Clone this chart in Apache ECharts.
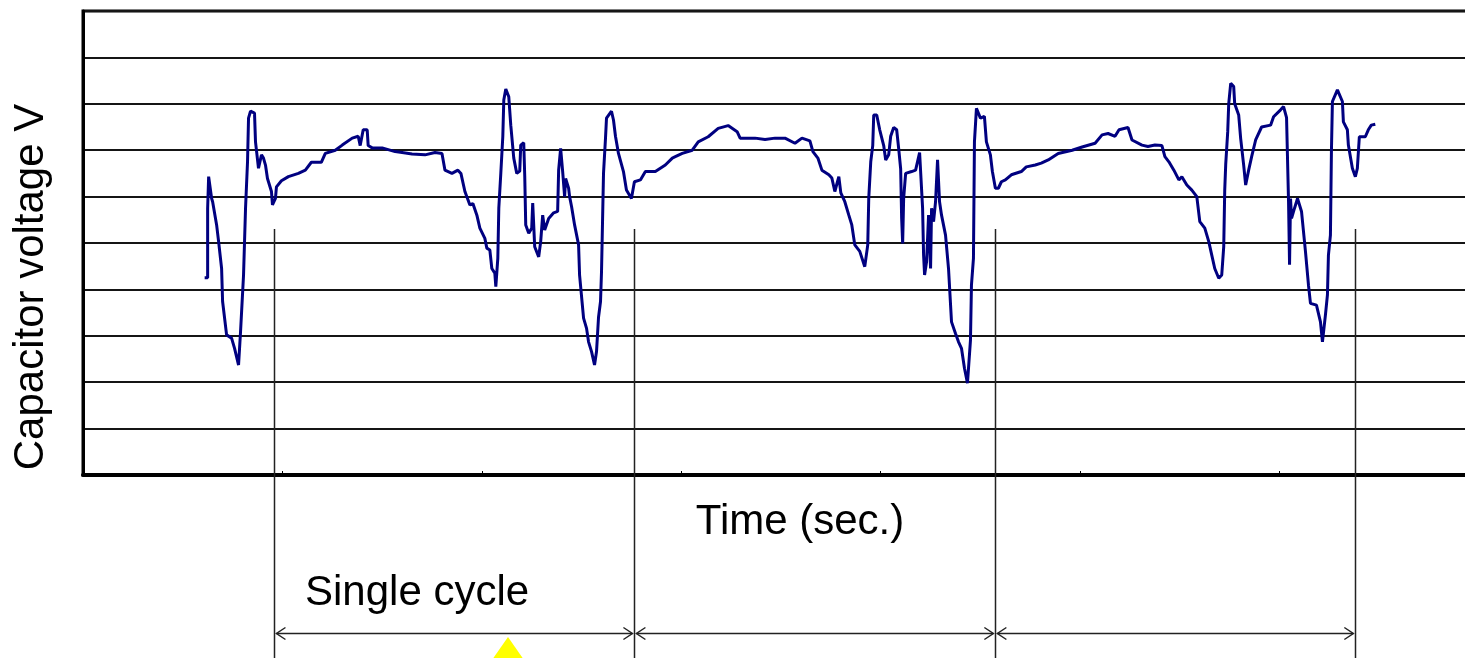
<!DOCTYPE html>
<html>
<head>
<meta charset="utf-8">
<title>Capacitor voltage</title>
<script src="https://cdn.jsdelivr.net/npm/echarts@6/dist/echarts.min.js"></script>
<style>
  html, body { margin: 0; padding: 0; background: #fff; }
  #chart { width: 1465px; height: 658px; }
</style>
</head>
<body>
<div id="chart"></div>
<script>
// time axis (ms, unlabeled ticks every 200) and voltage axis (one gridline per unit)
const timeMin = 0
const timeMax = 1400
const timeStep = 200
const voltMin = 0
const voltMax = 10
const voltStep = 1

// measured capacitor voltage, [time, volts]
const voltageTrace = [
  [122, 4.25], [125, 4.25], [125, 5.75], [126, 6.43], [127, 6.47], [129, 5.96], [130, 5.89], [134, 5.39],
  [136, 5.03], [139, 4.45], [140, 3.74], [144, 3.02], [149, 2.95], [152, 2.73], [156, 2.37], [157, 2.37],
  [158, 3.09], [161, 4.31], [163, 5.75], [165, 6.75], [166, 7.69], [168, 7.84], [172, 7.8], [173, 7.18],
  [176, 6.61], [179, 6.9], [181, 6.83], [183, 6.68], [185, 6.39], [189, 6.11], [190, 5.82], [193, 5.96],
  [194, 6.21], [199, 6.34], [206, 6.43], [216, 6.5], [223, 6.57], [229, 6.74], [239, 6.74], [243, 6.93],
  [253, 7.0], [260, 7.11], [270, 7.26], [276, 7.3], [278, 7.1], [281, 7.44], [285, 7.44], [286, 7.1],
  [290, 7.05], [300, 7.05], [313, 6.97], [320, 6.95], [330, 6.92], [343, 6.9], [353, 6.95], [360, 6.93],
  [363, 6.57], [370, 6.5], [376, 6.57], [379, 6.5], [383, 6.11], [388, 5.82], [391, 5.85], [395, 5.6],
  [398, 5.32], [403, 5.1], [405, 4.89], [408, 4.85], [410, 4.45], [413, 4.35], [414, 4.06], [416, 4.67],
  [417, 5.75], [419, 6.5], [421, 7.29], [422, 8.08], [424, 8.32], [427, 8.15], [429, 7.54], [432, 6.83],
  [435, 6.5], [438, 6.55], [439, 7.11], [442, 7.16], [443, 6.45], [444, 5.39], [447, 5.21], [450, 5.32],
  [451, 5.86], [452, 5.82], [453, 4.92], [457, 4.7], [459, 5.03], [461, 5.6], [463, 5.28], [467, 5.53],
  [472, 5.65], [476, 5.68], [477, 6.57], [479, 7.04], [481, 6.55], [483, 6.0], [484, 6.39], [487, 6.18],
  [488, 6.0], [490, 5.78], [493, 5.39], [497, 4.96], [498, 4.31], [502, 3.38], [505, 3.16], [507, 2.87],
  [510, 2.66], [513, 2.37], [515, 2.66], [517, 3.4], [519, 3.74], [520, 4.38], [522, 6.5], [524, 7.26],
  [525, 7.69], [530, 7.84], [532, 7.65], [534, 7.3], [537, 6.93], [542, 6.54], [545, 6.14], [550, 5.96],
  [553, 6.32], [559, 6.36], [564, 6.54], [574, 6.54], [584, 6.68], [591, 6.83], [594, 6.86], [601, 6.93],
  [611, 7.0], [617, 7.18], [627, 7.29], [637, 7.47], [647, 7.53], [656, 7.4], [659, 7.26], [674, 7.26],
  [684, 7.23], [694, 7.26], [704, 7.26], [714, 7.15], [721, 7.26], [729, 7.2], [732, 6.97], [737, 6.83],
  [741, 6.57], [748, 6.47], [751, 6.4], [754, 6.11], [758, 6.43], [760, 6.08], [764, 5.89], [768, 5.6],
  [771, 5.39], [774, 4.96], [779, 4.82], [784, 4.49], [787, 4.96], [788, 5.96], [790, 6.75], [792, 7.1],
  [793, 7.76], [796, 7.76], [799, 7.44], [803, 7.1], [805, 6.79], [808, 6.9], [810, 7.3], [813, 7.49],
  [816, 7.44], [818, 7.04], [820, 6.6], [821, 5.53], [822, 4.99], [823, 5.96], [825, 6.5], [831, 6.54],
  [835, 6.57], [837, 6.61], [839, 6.95], [841, 6.95], [842, 5.75], [843, 4.74], [844, 4.31], [846, 4.6],
  [848, 5.6], [850, 4.45], [851, 5.75], [853, 5.46], [855, 5.89], [857, 6.79], [859, 5.89], [861, 5.6],
  [865, 5.17], [868, 4.45], [871, 3.3], [875, 3.05], [878, 2.87], [881, 2.73], [884, 2.3], [887, 1.98],
  [890, 2.9], [891, 4.09], [893, 4.67], [894, 7.18], [896, 7.9], [897, 7.94], [900, 7.69], [904, 7.73],
  [906, 7.18], [910, 6.9], [912, 6.54], [915, 6.18], [918, 6.18], [921, 6.32], [925, 6.36], [931, 6.47],
  [941, 6.54], [946, 6.64], [955, 6.68], [961, 6.72], [968, 6.79], [978, 6.93], [992, 7.0], [1002, 7.07],
  [1015, 7.15], [1022, 7.33], [1028, 7.36], [1035, 7.3], [1039, 7.44], [1048, 7.49], [1052, 7.22], [1062, 7.11],
  [1068, 7.08], [1075, 7.11], [1082, 7.1], [1085, 6.86], [1089, 6.75], [1094, 6.57], [1099, 6.36], [1102, 6.43],
  [1107, 6.25], [1112, 6.14], [1117, 6.0], [1120, 5.46], [1125, 5.32], [1129, 5.03], [1132, 4.74], [1135, 4.45],
  [1139, 4.24], [1142, 4.31], [1144, 4.92], [1145, 6.14], [1146, 6.7], [1148, 7.4], [1149, 8.0], [1151, 8.44],
  [1154, 8.37], [1155, 8.0], [1159, 7.76], [1161, 7.25], [1164, 6.68], [1166, 6.25], [1169, 6.57], [1172, 6.86],
  [1176, 7.22], [1182, 7.5], [1191, 7.54], [1194, 7.72], [1201, 7.87], [1204, 7.94], [1207, 7.7], [1209, 5.89],
  [1210, 4.53], [1211, 5.96], [1212, 5.53], [1215, 5.75], [1218, 5.96], [1222, 5.68], [1226, 4.81], [1229, 4.09],
  [1231, 3.7], [1237, 3.66], [1241, 3.3], [1243, 2.87], [1246, 3.45], [1248, 3.88], [1249, 4.74], [1251, 5.17],
  [1252, 6.97], [1253, 8.05], [1258, 8.3], [1263, 8.05], [1264, 7.61], [1268, 7.44], [1269, 7.11], [1273, 6.61],
  [1276, 6.43], [1278, 6.61], [1280, 7.29], [1286, 7.29], [1289, 7.44], [1292, 7.54], [1296, 7.56]
]

// cycle boundaries (time) and where the marker lines / arrows sit (volts, below the axis)
const cycleStarts = [192, 553, 915, 1276]
const markerTop = 5.3
const markerBottom = -4.4
const arrowLevel = -3.41

const FONT = '42px "Liberation Sans", Arial, sans-serif'

const chart = echarts.init(document.getElementById('chart'))

const cycleSpans = cycleStarts.slice(0, -1).map((t, i) => [t, cycleStarts[i + 1]])

chart.setOption({
  animation: false,
  grid: {
    left: 83,
    top: 11,
    width: 1396,
    height: 464,
    outerBoundsMode: 'none',
    containLabel: false,
    show: true,
    borderColor: '#000',
    borderWidth: 3
  },
  xAxis: {
    type: 'value',
    min: timeMin,
    max: timeMax,
    interval: timeStep,
    axisLine: { show: true, lineStyle: { color: '#000', width: 4 } },
    axisTick: { show: true, inside: true, length: 4, lineStyle: { color: '#000', width: 1 } },
    axisLabel: { show: false },
    splitLine: { show: false }
  },
  yAxis: {
    type: 'value',
    min: voltMin,
    max: voltMax,
    interval: voltStep,
    axisLine: { show: true, lineStyle: { color: '#000', width: 3 } },
    axisTick: { show: false },
    axisLabel: { show: false },
    splitLine: { show: true, lineStyle: { color: '#151515', width: 2 } }
  },
  graphic: [
    {
      type: 'text', x: 800, y: 522,
      style: { text: 'Time (sec.)', font: FONT, fill: '#000', align: 'center', verticalAlign: 'middle' }
    },
    {
      type: 'text', x: 305, y: 593,
      style: { text: 'Single cycle', font: FONT, fill: '#000', align: 'left', verticalAlign: 'middle' }
    },
    {
      type: 'text', x: 31, y: 287, rotation: Math.PI / 2,
      style: { text: 'Capacitor voltage V', font: FONT, fill: '#000', align: 'center', verticalAlign: 'middle' }
    },
    {
      type: 'polygon',
      shape: { points: [[508, 637], [531, 670], [485, 670]] },
      style: { fill: '#ffff00' }
    }
  ],
  series: [
    {
      type: 'line',
      data: voltageTrace,
      showSymbol: false,
      symbol: 'none',
      z: 5,
      lineStyle: { color: '#000080', width: 3 }
    },
    {
      // vertical cycle markers
      type: 'custom',
      clip: false,
      data: cycleStarts.map(t => [t, markerTop]),
      renderItem(params, api) {
        const top = api.coord([api.value(0), markerTop])
        const bottom = api.coord([api.value(0), markerBottom])
        return {
          type: 'line',
          shape: { x1: Math.round(top[0]) + 0.5, y1: top[1], x2: Math.round(bottom[0]) + 0.5, y2: bottom[1] },
          style: { stroke: '#222', lineWidth: 1.5 }
        }
      }
    },
    {
      // double headed arrows spanning each cycle
      type: 'custom',
      clip: false,
      encode: { x: [0, 1] },
      data: cycleSpans,
      renderItem(params, api) {
        const a = api.coord([api.value(0), arrowLevel])
        const b = api.coord([api.value(1), arrowLevel])
        const y = Math.round(a[1]) + 0.5
        const x1 = a[0] + 2
        const x2 = b[0] - 2
        const style = { stroke: '#222', lineWidth: 1.5, fill: null }
        return {
          type: 'group',
          children: [
            { type: 'line', shape: { x1, y1: y, x2, y2: y }, style },
            { type: 'polyline', shape: { points: [[x1 + 9, y - 6], [x1, y], [x1 + 9, y + 6]] }, style },
            { type: 'polyline', shape: { points: [[x2 - 9, y - 6], [x2, y], [x2 - 9, y + 6]] }, style }
          ]
        }
      }
    }
  ]
})
</script>
</body>
</html>
